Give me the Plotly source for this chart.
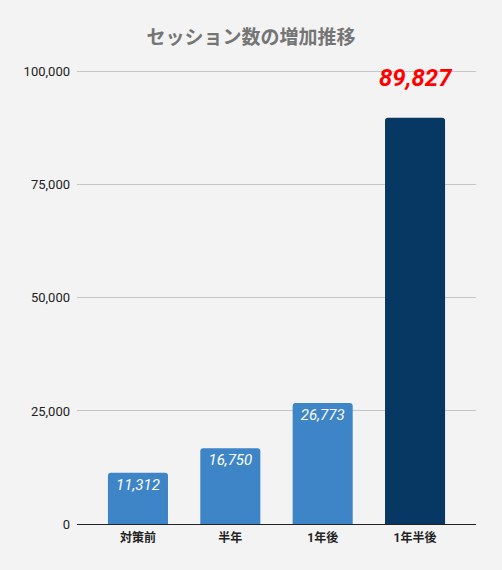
import plotly.graph_objects as go

# data
categories = ['対策前', '半年', '1年後', '1年半後']
sessions = [11312, 16750, 26773, 89827]
bar_colors = ['#3d85c6', '#3d85c6', '#3d85c6', '#073763']
tick_vals = [0, 25000, 50000, 75000, 100000]
tick_text = ['0', '25,000', '50,000', '75,000', '100,000']

font_jp = 'Roboto, Noto Sans CJK JP'

# last bar gets a big red label above it, the others a white one inside
inside_text = ['{:,}'.format(v) for v in sessions[:-1]] + ['']

fig = go.Figure()
fig.add_trace(go.Bar(
    x=categories,
    y=sessions,
    marker=dict(color=bar_colors, line_width=0),
    text=inside_text,
    textposition='inside',
    insidetextanchor='end',
    textangle=0,
    textfont=dict(family='Roboto', size=15, color='white', style='italic'),
    hoverinfo='x+y',
))

fig.add_annotation(
    x=categories[-1], y=sessions[-1],
    text='{:,}'.format(sessions[-1]),
    showarrow=False,
    yanchor='bottom',
    yshift=24,
    font=dict(family='Roboto', size=24, color='#ff0000', weight='bold', style='italic'),
)

fig.update_layout(
    width=502, height=570,
    paper_bgcolor='#f3f3f3',
    plot_bgcolor='#f3f3f3',
    margin=dict(l=77, r=26, t=70, b=46),
    bargap=0.35,
    barcornerradius=3,
    showlegend=False,
    title=dict(
        text='<b>セッション数の増加推移</b>',
        x=0.5, xanchor='center',
        y=0.935, yanchor='middle',
        font=dict(family=font_jp, size=19, color='#757575'),
    ),
    xaxis=dict(
        range=[-0.66, 3.66],
        showgrid=False,
        showline=False,
        ticks='',
        ticklabelstandoff=5,
        tickfont=dict(family=font_jp, size=12, color='#222222', weight='bold'),
    ),
    yaxis=dict(
        # a little headroom so the 100,000 gridline is drawn
        range=[0, 100400],
        tickvals=tick_vals,
        ticktext=tick_text,
        showgrid=True,
        gridcolor='#c6c6c6',
        gridwidth=1,
        zeroline=True,
        zerolinecolor='#222222',
        zerolinewidth=1.2,
        ticks='',
        ticklabelstandoff=6,
        tickfont=dict(family='Roboto', size=13, color='#222222'),
    ),
)

# drop the default page margin so the grey background fills the window
fig.write_html('out.html', config={'displayModeBar': False},
               post_script="document.body.style.margin='0';")
